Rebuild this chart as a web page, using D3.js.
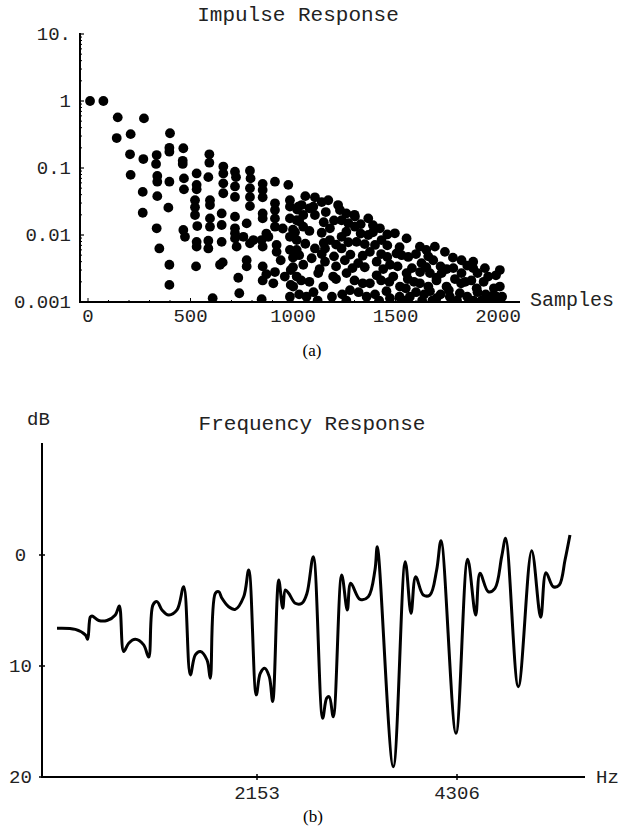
<!DOCTYPE html>
<html>
<head>
<meta charset="utf-8">
<script src="https://cdn.jsdelivr.net/npm/d3@7"></script>
<style>
  body { margin: 0; background: #fff; }
  text.mono { font-family: "Liberation Mono", "Courier New", monospace; fill: #222; }
  text.cap { font-family: "Liberation Serif", "Times New Roman", serif; fill: #000; }
</style>
</head>
<body>
<div id="chart"></div>
<script>
// impulse response: sample index and amplitude (log axis)
var impulseSamples = [
  10, 75, 145, 273, 140, 208, 400, 205, 270, 335, 332, 397, 397, 465, 462, 462, 592, 592,
  208, 338, 338, 397, 468, 530, 587, 660, 660, 717, 790, 722, 793,
  267, 338, 468, 530, 530, 660, 660, 717, 717, 790, 790, 852, 852, 912, 977,
  267, 392, 522, 522, 522, 595, 595, 652, 717, 790, 852, 852, 912, 912, 985, 985, 1026,
  335, 533, 465, 595, 595, 652, 717, 774, 852, 912, 912, 985,
  473, 530, 587, 652, 717, 717, 758, 807, 847, 880, 920, 985, 1018,
  348, 530, 587, 725, 790, 852, 920, 985,
  397, 527, 657, 644, 774, 774, 852, 912, 989,
  397, 733, 852, 904, 989, 608, 738, 847, 985,
  1107, 1172, 1042, 1099, 1229, 1367, 1302, 1050, 1107, 1237, 1180, 1424, 1302, 1367, 1497, 1554, 1237,
  1018, 1050, 1180, 1432, 1310, 1619, 1692, 1741, 1107, 1156, 1237, 1375, 1505, 1562, 1018, 1091,
  1050, 1156, 1253, 1318, 1408, 1473, 1627, 1684, 1822, 1879, 1879, 1936, 2009, 1952, 2009,
  1782, 1822, 1725, 1668, 1554, 1489, 1408, 1261, 1196, 1123, 1018, 1001, 1148, 1278, 1375,
  1522, 1619, 1749, 1896, 1456, 1668, 1814, 1977, 1473, 1570, 1700, 1765, 1961, 1993, 1359, 1066
];
var impulseValues = [
  1.0, 1.0, 0.57, 0.55, 0.28, 0.32, 0.33, 0.16, 0.136, 0.156, 0.115, 0.20, 0.175, 0.197, 0.128, 0.115, 0.16, 0.12,
  0.079, 0.076, 0.0625, 0.0625, 0.070, 0.083, 0.073, 0.105, 0.083, 0.088, 0.091, 0.073, 0.070,
  0.044, 0.038, 0.048, 0.056, 0.048, 0.059, 0.042, 0.053, 0.037, 0.050, 0.037, 0.058, 0.047, 0.0625, 0.056,
  0.0215, 0.0256, 0.033, 0.026, 0.0199, 0.033, 0.028, 0.021, 0.0188, 0.027, 0.0365, 0.021, 0.0297, 0.0236, 0.033, 0.0265, 0.0265,
  0.0126, 0.0136, 0.0119, 0.0177, 0.0133, 0.0141, 0.0126, 0.0149, 0.0177, 0.0177, 0.0133, 0.0177,
  0.0094, 0.0079, 0.0082, 0.0079, 0.0106, 0.0089, 0.0094, 0.0084, 0.0084, 0.0094, 0.0071, 0.0094, 0.0084,
  0.0063, 0.0067, 0.0063, 0.0067, 0.0075, 0.0067, 0.0056, 0.0060,
  0.0036, 0.0034, 0.0039, 0.0036, 0.0042, 0.0034, 0.0034, 0.0028, 0.0030,
  0.0018, 0.0023, 0.0021, 0.0019, 0.0018, 0.00114, 0.00135, 0.0011, 0.0012,
  0.0365, 0.033, 0.028, 0.0265, 0.0236, 0.0177, 0.0188, 0.0199, 0.0199, 0.0166, 0.0126, 0.0126, 0.0133, 0.0100, 0.0106, 0.0089, 0.0094,
  0.0166, 0.0133, 0.0084, 0.0084, 0.0079, 0.0067, 0.0067, 0.0056, 0.0063, 0.0063, 0.0063, 0.0056, 0.0053, 0.0047, 0.0060, 0.0045,
  0.0036, 0.0040, 0.0042, 0.0038, 0.0040, 0.0036, 0.0038, 0.0042, 0.0042, 0.0040, 0.0032, 0.0032, 0.0030, 0.0024, 0.0017,
  0.0032, 0.0027, 0.0027, 0.0027, 0.0027, 0.0024, 0.0025, 0.0027, 0.0024, 0.0027, 0.0024, 0.0017, 0.0017, 0.0015, 0.0019,
  0.0017, 0.0019, 0.0017, 0.0016, 0.00145, 0.00145, 0.00135, 0.00126, 0.00114, 0.0012, 0.00114, 0.0012, 0.00114, 0.0012, 0.0012, 0.0012
];
// the dense tail (1000-2000 samples), read row by row
var tailSamples = [
  1030, 1100, 1190, 1240, 1320, 1400, 1520, 1600, 1640, 1720, 1850, 1900, 1940, 2020,
  1040, 1080, 1210, 1300, 1340, 1430, 1470, 1560, 1590, 1700, 1790, 1840, 1870, 1930,
  1000, 1130, 1210, 1290, 1350, 1440, 1510, 1580, 1650, 1720, 1750, 1850, 1990,
  1030, 1140, 1200, 1280, 1340, 1430, 1460, 1530, 1600, 1660, 1780,
  1060, 1150, 1210, 1270, 1350, 1400, 1460, 1520, 1650,
  1010, 1080, 1140, 1260, 1330, 1390, 1460,
  1030, 1150, 1200, 1270, 1330, 1390,
  1020, 1080, 1160, 1260, 1300,
  1060, 1140, 1220,
  870, 950, 1000, 940, 870, 960, 1000,
  1120, 1260, 1420, 1540, 1630, 1680, 1800, 1880, 1920,
  1550, 1660, 1760, 1980, 1820, 1700, 1620, 1900
];
var tailValues = [
  0.0013, 0.0014, 0.0012, 0.0013, 0.0014, 0.0013, 0.0012, 0.0014, 0.0013, 0.0013, 0.0012, 0.0014, 0.0013, 0.0012,
  0.0021, 0.0020, 0.0022, 0.0021, 0.0019, 0.0021, 0.0020, 0.0022, 0.0020, 0.0021, 0.0022, 0.0020, 0.0021, 0.0020,
  0.0033, 0.0031, 0.0034, 0.0032, 0.0033, 0.0031, 0.0034, 0.0032, 0.0033, 0.0034, 0.0031, 0.0035, 0.0025,
  0.0050, 0.0052, 0.0048, 0.0051, 0.0049, 0.0052, 0.0047, 0.0050, 0.0052, 0.0048, 0.0046,
  0.0074, 0.0076, 0.0072, 0.0078, 0.0073, 0.0071, 0.0070, 0.0066, 0.0060,
  0.011, 0.0115, 0.0108, 0.0112, 0.0105, 0.0110, 0.0102,
  0.016, 0.0155, 0.0165, 0.015, 0.0145, 0.014,
  0.024, 0.025, 0.022, 0.021, 0.020,
  0.038, 0.031, 0.028,
  0.0105, 0.0125, 0.012, 0.0042, 0.0026, 0.0024, 0.0046,
  0.00105, 0.00105, 0.00105, 0.00105, 0.00105, 0.00105, 0.00105, 0.00105, 0.00105,
  0.0016, 0.0017, 0.0015, 0.0016, 0.0019, 0.0023, 0.0028, 0.0027
];
var impulseXTicks = [0, 500, 1000, 1500, 2000];
var impulseYTicks = [0.001, 0.01, 0.1, 1, 10];
var impulseYLabels = ["0.001", "0.01", "0.1", "1", "10."];

// frequency response: Hz and attenuation (dB, drawn downward)
var freqHz = [
  0, 197, 305, 330, 358, 377, 449, 538, 628, 671, 718, 772, 843, 933, 987, 1033, 1077, 1130,
  1202, 1292, 1364, 1435, 1489, 1543, 1615, 1650, 1704, 1741, 1776, 1848, 1919, 2010, 2064,
  2145, 2188, 2236, 2285, 2322, 2387, 2430, 2458, 2494, 2565, 2637, 2691, 2759, 2860, 2903,
  2931, 2974, 3065, 3125, 3162, 3262, 3351, 3423, 3448, 3620, 3749, 3811, 3861, 3943, 4015,
  4087, 4134, 4295, 4421, 4507, 4554, 4643, 4715, 4787, 4830, 4966, 5110, 5207, 5264, 5343,
  5407, 5469, 5522
];
var freqDb = [
  6.6, 6.7, 7.2, 7.6, 5.6, 5.5, 5.9, 5.9, 5.4, 4.6, 8.7, 7.95, 7.6, 8.1, 9.2, 4.5, 4.2, 4.95,
  5.4, 4.95, 2.86, 10.8, 9.0, 8.7, 9.46, 11.1, 3.45, 3.3, 3.9, 4.66, 4.9, 3.76, 1.35,
  12.6, 10.66, 10.2, 10.96, 13.2, 2.25, 4.8, 3.15, 3.45, 4.35, 4.35, 3.45, 0.15, 14.7, 12.9,
  12.77, 14.57, 1.8, 4.95, 2.55, 4.0, 3.76, 1.35, -0.75, 19.07, 0.6, 5.25, 1.95, 3.6, 3.6,
  1.35, -1.29, 16.06, 0.39, 5.41, 1.65, 3.31, 3.0, 0.15, -1.5, 11.86, -0.39, 5.61, 1.59, 2.86,
  2.7, 0.45, -1.8
];
var freqXTicks = [2153, 4306];
var freqYTicks = [0, 10, 20];

var width = 621, height = 839;

var svg = d3.select("#chart").append("svg")
    .attr("width", width)
    .attr("height", height)
    .style("background", "#fff");

// ---------- (a) impulse response ----------
var x1 = d3.scaleLinear().domain([0, 2000]).range([88, 498]);
var y1 = d3.scaleLog().domain([0.001, 10]).range([302, 34]);
var ax1 = 80, ay1 = 302, right1 = 520, top1 = 33;

svg.append("text").attr("class", "mono")
    .attr("x", 298).attr("y", 21)
    .attr("text-anchor", "middle")
    .style("font-size", "21px")
    .text("Impulse Response");

svg.append("clipPath").attr("id", "clipA")
  .append("rect").attr("x", ax1).attr("y", 0).attr("width", right1 - ax1).attr("height", ay1);

var impulse = impulseSamples.map(function(s, i) { return { n: s, v: impulseValues[i] }; })
  .concat(tailSamples.map(function(s, i) { return { n: s, v: tailValues[i] }; }));

svg.append("g").attr("clip-path", "url(#clipA)")
  .selectAll("circle")
  .data(impulse)
  .enter().append("circle")
    .attr("cx", function(d) { return x1(d.n); })
    .attr("cy", function(d) { return y1(d.v); })
    .attr("r", 4.9)
    .style("fill", "#000");

// axes frame
svg.append("line").attr("x1", ax1).attr("x2", ax1).attr("y1", top1).attr("y2", ay1 + 1)
    .style("stroke", "#000").style("stroke-width", 2);
svg.append("line").attr("x1", ax1 - 1).attr("x2", right1).attr("y1", ay1).attr("y2", ay1)
    .style("stroke", "#000").style("stroke-width", 2);

// log minor ticks
var minor1 = [];
[0.001, 0.01, 0.1, 1].forEach(function(dec) {
  for (var k = 2; k <= 9; k++) minor1.push(dec * k);
});
svg.selectAll(".ytick-minor").data(minor1).enter().append("line")
    .attr("x1", ax1).attr("x2", ax1 + 2)
    .attr("y1", function(d) { return y1(d); }).attr("y2", function(d) { return y1(d); })
    .style("stroke", "#000").style("stroke-width", 1);
svg.selectAll(".ytick").data(impulseYTicks).enter().append("line")
    .attr("x1", ax1).attr("x2", ax1 + 4)
    .attr("y1", function(d) { return y1(d); }).attr("y2", function(d) { return y1(d); })
    .style("stroke", "#000").style("stroke-width", 1.2);
svg.selectAll(".ylab").data(impulseYTicks).enter().append("text")
    .attr("class", "mono")
    .attr("x", 71)
    .attr("y", function(d) { return y1(d) + 6; })
    .attr("text-anchor", "end")
    .style("font-size", "19px")
    .text(function(d, i) { return impulseYLabels[i]; });

svg.selectAll(".xtick-minor").data(d3.range(0, 2001, 100)).enter().append("line")
    .attr("x1", function(d) { return x1(d); }).attr("x2", function(d) { return x1(d); })
    .attr("y1", ay1).attr("y2", function(d) { return d % 500 === 0 ? ay1 - 4 : ay1 - 2; })
    .style("stroke", "#000").style("stroke-width", 1);
svg.selectAll(".xlab").data(impulseXTicks).enter().append("text")
    .attr("class", "mono")
    .attr("x", function(d) { return x1(d); })
    .attr("y", 322)
    .attr("text-anchor", "middle")
    .style("font-size", "19px")
    .text(function(d) { return d; });

svg.append("text").attr("class", "mono")
    .attr("x", 530).attr("y", 306)
    .style("font-size", "20px")
    .text("Samples");

svg.append("text").attr("class", "cap")
    .attr("x", 312).attr("y", 356)
    .attr("text-anchor", "middle")
    .style("font-size", "17px")
    .text("(a)");

// ---------- (b) frequency response ----------
var x2 = d3.scaleLinear().domain([0, 2153]).range([57, 257]);
var y2 = d3.scaleLinear().domain([0, 20]).range([555, 777]);
var ax2 = 42, ay2 = 777, right2 = 585, top2 = 443;

svg.append("text").attr("class", "mono")
    .attr("x", 312).attr("y", 430)
    .attr("text-anchor", "middle")
    .style("font-size", "21px")
    .text("Frequency Response");

svg.append("text").attr("class", "mono")
    .attr("x", 27).attr("y", 425)
    .style("font-size", "19px")
    .text("dB");

svg.append("line").attr("x1", ax2).attr("x2", ax2).attr("y1", top2).attr("y2", ay2 + 1)
    .style("stroke", "#000").style("stroke-width", 2);
svg.append("line").attr("x1", ax2 - 1).attr("x2", right2).attr("y1", ay2).attr("y2", ay2)
    .style("stroke", "#000").style("stroke-width", 2);

svg.selectAll(".ytick2").data(freqYTicks).enter().append("line")
    .attr("x1", ax2 - 3).attr("x2", ax2 + 3)
    .attr("y1", function(d) { return y2(d); }).attr("y2", function(d) { return y2(d); })
    .style("stroke", "#000").style("stroke-width", 1.5);
svg.selectAll(".ylab2").data(freqYTicks).enter().append("text")
    .attr("class", "mono")
    .attr("x", 20.5)
    .attr("y", function(d) { return y2(d) + 6; })
    .attr("text-anchor", "middle")
    .style("font-size", "19px")
    .text(function(d) { return d; });

svg.selectAll(".xtick2").data(freqXTicks).enter().append("line")
    .attr("x1", function(d) { return x2(d); }).attr("x2", function(d) { return x2(d); })
    .attr("y1", ay2 - 3).attr("y2", ay2 + 3)
    .style("stroke", "#000").style("stroke-width", 1.5);
svg.selectAll(".xlab2").data(freqXTicks).enter().append("text")
    .attr("class", "mono")
    .attr("x", function(d) { return x2(d); })
    .attr("y", 799)
    .attr("text-anchor", "middle")
    .style("font-size", "19px")
    .text(function(d) { return d; });

svg.append("text").attr("class", "mono")
    .attr("x", 596).attr("y", 783)
    .style("font-size", "19px")
    .text("Hz");

var line = d3.line()
    .x(function(d, i) { return x2(freqHz[i]); })
    .y(function(d) { return y2(d); })
    .curve(d3.curveCatmullRom.alpha(0.5));

svg.append("path")
    .datum(freqDb)
    .attr("d", line)
    .style("fill", "none")
    .style("stroke", "#000")
    .style("stroke-width", 3)
    .style("stroke-linejoin", "round");

svg.append("text").attr("class", "cap")
    .attr("x", 313).attr("y", 822)
    .attr("text-anchor", "middle")
    .style("font-size", "17px")
    .text("(b)");
</script>
</body>
</html>
